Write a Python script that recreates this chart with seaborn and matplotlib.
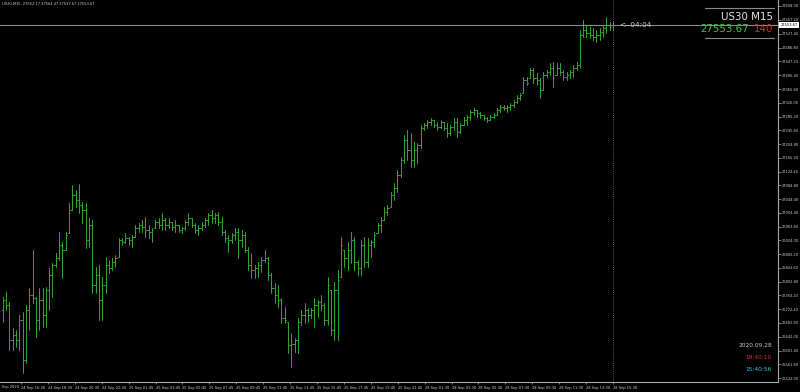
import numpy as np
import pandas as pd
import matplotlib
matplotlib.use("Agg")
import matplotlib.pyplot as plt
from matplotlib.lines import Line2D
import matplotlib.transforms as mtransforms
import seaborn as sns

# ---------------- data (US30, M15) ----------------
opens = [
    26721, 26750, 26735, 26633, 26648, 26633, 26691, 26575, 26721, 26764,
    26756, 26691, 26750, 26706, 26779, 26823, 26852, 26872, 26910, 26896,
    26945, 27013, 27056, 27042, 27027, 27013, 26925, 26969, 26794, 26823,
    26750, 26794, 26852, 26843, 26861, 26875, 26925, 26919, 26931, 26925,
    26934, 26960, 26969, 26963, 26954, 26948, 26960, 26977, 26969, 26983,
    26969, 26977, 26963, 26969, 26954, 26960, 26977, 26989, 26969, 26954,
    26960, 26969, 26983, 26998, 26989, 26998, 26977, 26948, 26931, 26925,
    26940, 26948, 26925, 26940, 26896, 26852, 26837, 26843, 26852, 26867,
    26872, 26823, 26785, 26764, 26750, 26697, 26686, 26618, 26620, 26633,
    26686, 26706, 26721, 26706, 26721, 26735, 26744, 26735, 26691, 26779,
    26662, 26779, 26817, 26896, 26872, 26896, 26925, 26861, 26843, 26910,
    26861, 26910, 26919, 26945, 26969, 26983, 27007, 27021, 27056, 27077,
    27115, 27158, 27217, 27188, 27158, 27188, 27202, 27252, 27261, 27269,
    27275, 27261, 27255, 27269, 27252, 27237, 27255, 27269, 27240, 27261,
    27275, 27284, 27299, 27304, 27296, 27290, 27281, 27275, 27284, 27290,
    27304, 27313, 27310, 27313, 27319, 27328, 27339, 27354, 27392, 27398,
    27421, 27398, 27392, 27363, 27407, 27415, 27427, 27407, 27427, 27415,
    27401, 27407, 27415, 27427, 27436, 27523, 27538, 27529, 27523, 27517,
    27523, 27532, 27544, 27552, 27552.17,
]
highs = [
    26759, 26773, 26744, 26668, 26662, 26706, 26715, 26735, 26785, 26896,
    26759, 26785, 26785, 26788, 26843, 26858, 26887, 26948, 26919, 26948,
    27033, 27085, 27071, 27088, 27036, 27033, 26989, 26983, 26846, 26852,
    26817, 26875, 26867, 26872, 26881, 26931, 26931, 26945, 26934, 26940,
    26969, 26975, 26983, 26992, 26969, 26960, 26983, 26989, 27004, 26989,
    26989, 26977, 26983, 26969, 26963, 26983, 27004, 26989, 26975, 26969,
    26977, 26989, 27004, 27013, 27004, 27007, 26992, 26954, 26940, 26945,
    26960, 26960, 26954, 26948, 26905, 26887, 26852, 26861, 26875, 26896,
    26875, 26829, 26799, 26794, 26756, 26729, 26686, 26653, 26639, 26697,
    26721, 26741, 26726, 26726, 26756, 26750, 26764, 26741, 26817, 26779,
    26802, 26837, 26934, 26896, 26919, 26948, 26934, 26867, 26925, 26934,
    26931, 26925, 26948, 26975, 26992, 27021, 27027, 27065, 27091, 27129,
    27167, 27231, 27246, 27237, 27211, 27208, 27261, 27266, 27275, 27281,
    27275, 27269, 27275, 27269, 27266, 27261, 27281, 27281, 27266, 27284,
    27290, 27304, 27310, 27304, 27299, 27290, 27284, 27290, 27296, 27310,
    27319, 27319, 27319, 27325, 27334, 27348, 27354, 27401, 27401, 27427,
    27427, 27412, 27398, 27415, 27421, 27442, 27445, 27442, 27442, 27421,
    27415, 27421, 27436, 27445, 27538, 27567, 27552, 27547, 27544, 27538,
    27544, 27552, 27576, 27561, 27564.47,
]
lows = [
    26686, 26721, 26604, 26604, 26613, 26604, 26537, 26566, 26662, 26741,
    26642, 26662, 26671, 26671, 26721, 26759, 26846, 26867, 26814, 26896,
    26945, 27013, 27021, 27004, 26975, 26902, 26905, 26770, 26770, 26691,
    26691, 26770, 26829, 26837, 26846, 26875, 26910, 26916, 26910, 26905,
    26934, 26948, 26948, 26934, 26931, 26919, 26960, 26960, 26954, 26954,
    26960, 26954, 26948, 26948, 26945, 26954, 26969, 26963, 26945, 26940,
    26954, 26963, 26969, 26975, 26975, 26969, 26940, 26919, 26890, 26916,
    26925, 26872, 26905, 26890, 26837, 26814, 26814, 26817, 26832, 26861,
    26808, 26770, 26741, 26729, 26683, 26683, 26595, 26554, 26598, 26595,
    26677, 26683, 26686, 26697, 26671, 26700, 26721, 26677, 26677, 26648,
    26633, 26633, 26817, 26846, 26837, 26858, 26837, 26823, 26823, 26846,
    26846, 26875, 26905, 26945, 26948, 26983, 26998, 27021, 27042, 27065,
    27109, 27150, 27158, 27138, 27138, 27150, 27194, 27246, 27252, 27261,
    27255, 27246, 27252, 27246, 27226, 27231, 27246, 27226, 27237, 27261,
    27261, 27275, 27290, 27284, 27281, 27275, 27269, 27275, 27281, 27290,
    27299, 27304, 27299, 27304, 27313, 27325, 27334, 27354, 27377, 27398,
    27383, 27377, 27339, 27363, 27401, 27407, 27372, 27407, 27407, 27392,
    27392, 27398, 27401, 27421, 27427, 27517, 27517, 27515, 27509, 27503,
    27509, 27517, 27529, 27538, 27537.67,
]
closes = [
    26750, 26735, 26633, 26648, 26633, 26691, 26575, 26721, 26764, 26756,
    26691, 26750, 26706, 26779, 26823, 26852, 26872, 26910, 26896, 26940,
    27013, 27056, 27042, 27027, 27013, 26925, 26969, 26794, 26823, 26750,
    26794, 26852, 26843, 26861, 26872, 26925, 26919, 26931, 26925, 26934,
    26960, 26969, 26963, 26954, 26948, 26954, 26977, 26969, 26983, 26969,
    26977, 26963, 26969, 26954, 26960, 26977, 26989, 26969, 26954, 26960,
    26969, 26983, 26998, 26989, 26998, 26977, 26948, 26931, 26925, 26940,
    26948, 26925, 26940, 26896, 26852, 26837, 26843, 26852, 26867, 26872,
    26823, 26785, 26764, 26750, 26697, 26691, 26618, 26620, 26633, 26686,
    26706, 26721, 26706, 26721, 26735, 26744, 26735, 26691, 26794, 26662,
    26779, 26808, 26910, 26872, 26896, 26925, 26861, 26843, 26910, 26861,
    26910, 26919, 26940, 26969, 26983, 27007, 27018, 27056, 27077, 27115,
    27158, 27217, 27188, 27158, 27188, 27202, 27252, 27261, 27269, 27275,
    27261, 27255, 27269, 27252, 27237, 27255, 27269, 27240, 27261, 27275,
    27284, 27299, 27304, 27296, 27290, 27281, 27275, 27284, 27290, 27304,
    27313, 27310, 27313, 27319, 27328, 27339, 27348, 27392, 27383, 27421,
    27398, 27392, 27363, 27407, 27415, 27427, 27398, 27427, 27415, 27401,
    27407, 27415, 27427, 27436, 27523, 27538, 27529, 27523, 27517, 27523,
    27532, 27544, 27552, 27547, 27553.67,
]

time_labels = [
    "24 Sep 16:30", "24 Sep 18:30", "24 Sep 20:30", "24 Sep 22:30",
    "25 Sep 01:45", "25 Sep 03:45", "25 Sep 05:45", "25 Sep 07:45",
    "25 Sep 09:45", "25 Sep 11:45", "25 Sep 13:45", "25 Sep 15:45",
    "25 Sep 17:45", "25 Sep 19:45", "25 Sep 21:45", "28 Sep 01:30",
    "28 Sep 03:30", "28 Sep 05:30", "28 Sep 07:30", "28 Sep 09:30",
    "28 Sep 11:30", "28 Sep 13:30", "28 Sep 15:30",
]
first_date_label = "24 Sep 2020"
price_ticks = [
    27608.00, 27567.20, 27527.40, 27486.80, 27447.20, 27406.40, 27365.60,
    27326.00, 27285.20, 27245.60, 27204.80, 27165.20, 27124.40, 27084.80,
    27044.00, 27004.40, 26963.60, 26924.00, 26883.20, 26843.60, 26802.80,
    26763.20, 26722.40, 26682.80, 26642.00, 26601.40, 26561.60, 26522.00,
]
symbol = "US30"
timeframe = "M15"
bid_price = 27553.67
spread = 140
countdown = "04:04"
date_text = "2020.09.28"
server_time = "19:40:10"
local_time = "15:40:56"

# ---------------- style ----------------
sns.set_theme(style="dark", rc={
    "axes.facecolor": "black", "figure.facecolor": "black",
    "savefig.facecolor": "black", "axes.grid": False,
})
plt.rcParams["font.family"] = ["DejaVu Sans"]

BAR_GREEN = "#34a034"
AX_GREY = "#a8a8a8"
TXT = "#d0d0d0"

W, H = 800, 392
fig = plt.figure(figsize=(W / 100, H / 100), dpi=100)
ax = fig.add_axes([0, 10 / H, 778 / W, 382 / H])

n = len(opens)
idx = np.arange(n)
tick_w = 0.35

# long table of line segments: high-low, open tick, close tick
seg_frames = [
    pd.DataFrame({"seg": np.repeat(idx, 2),
                  "x": np.repeat(idx, 2).astype(float),
                  "price": np.column_stack([highs, lows]).ravel()}),
    pd.DataFrame({"seg": np.repeat(idx + n, 2),
                  "x": np.column_stack([idx - tick_w, idx]).ravel(),
                  "price": np.repeat(opens, 2)}),
    pd.DataFrame({"seg": np.repeat(idx + 2 * n, 2),
                  "x": np.column_stack([idx, idx + tick_w]).ravel(),
                  "price": np.repeat(closes, 2)}),
]
segs = pd.concat(seg_frames, ignore_index=True)
sns.lineplot(data=segs, x="x", y="price", units="seg", estimator=None,
             sort=False, color=BAR_GREEN, lw=0.75, ax=ax, legend=False)

# axes geometry: ~3.317 px per bar, first bar ~2.7 px from left
px_per_bar = 3.317
x0 = -2.7 / px_per_bar
ax.set_xlim(x0, x0 + 778 / px_per_bar)
ax.set_ylim(26510.4, 27625.5)

# current bid line, dotted current-bar line
ax.axhline(bid_price, color="#8c8c8c", lw=0.8)
ax.axvline(n - 1, color="#7a7a7a", lw=0.6, ls=(0, (1, 1.5)))

# spines
for s in ["left", "top"]:
    ax.spines[s].set_visible(False)
for s in ["right", "bottom"]:
    ax.spines[s].set_visible(True)
    ax.spines[s].set_color(AX_GREY)
    ax.spines[s].set_linewidth(0.8)

# y ticks on right
ax.yaxis.tick_right()
ax.set_yticks(price_ticks)
ax.set_yticklabels([f"{v:.2f}" for v in price_ticks])
ax.tick_params(axis="y", which="both", right=True, left=False, direction="out",
               length=2, width=0.5, color=AX_GREY, labelsize=2.6,
               labelcolor=TXT, pad=1)

# x ticks
xt = np.linspace(5.5, n - 1, len(time_labels))
ax.set_xticks(xt)
ax.set_xticklabels(time_labels, ha="left")
ax.tick_params(axis="x", which="both", bottom=True, direction="out",
               length=1.5, width=0.5, color=AX_GREY, labelsize=2.6,
               labelcolor=TXT, pad=1.2)
ax.set_xlabel("")
ax.set_ylabel("")
fig.text(18.5 / W, 1 - 387 / H, first_date_label, ha="right", va="center",
         fontsize=2.6, color=TXT)

# bid price box on right axis
trans = mtransforms.blended_transform_factory(ax.transAxes, ax.transData)
ax.text(1.003, bid_price, f"{bid_price:.2f}", transform=trans, ha="left",
        va="center", fontsize=2.6, color="black", clip_on=False,
        bbox=dict(boxstyle="square,pad=0.3", fc="white", ec="white", lw=0))

# countdown next to last bar
ax.text(n - 1 + 2.0, bid_price, "<--" + countdown, ha="left", va="center",
        fontsize=5.2, color=TXT)

# header
fig.text(2 / W, 1 - 4 / H,
         f"{symbol},{timeframe}  {opens[-1]:.2f} {highs[-1]:.2f} {lows[-1]:.2f} {closes[-1]:.2f}",
         ha="left", va="center", fontsize=2.6, color=TXT)

# top-right info panel
for yy in (8, 38):
    fig.add_artist(Line2D([705 / W, 774 / W], [1 - yy / H, 1 - yy / H],
                          color="#8a8a8a", lw=0.8, transform=fig.transFigure))
fig.text(773 / W, 1 - 17 / H, f"{symbol} {timeframe}", ha="right", va="center",
         fontsize=7.4, color="#e6e6e6")
fig.text(700 / W, 1 - 29.5 / H, f"{bid_price:.2f}", ha="left", va="center",
         fontsize=7.4, color="#3cc83c")
fig.text(773 / W, 1 - 29.5 / H, f"{spread}", ha="right", va="center",
         fontsize=7.4, color="#e02424")

# bottom-right clock
fig.text(772 / W, 1 - 345.5 / H, date_text, ha="right", va="center",
         fontsize=4.2, color="#c8c8c8")
fig.text(772 / W, 1 - 357.5 / H, server_time, ha="right", va="center",
         fontsize=4.2, color="#e03030")
fig.text(772 / W, 1 - 369.5 / H, local_time, ha="right", va="center",
         fontsize=4.2, color="#3cc8e0")

fig.savefig("out.png", dpi=100, facecolor="black")
